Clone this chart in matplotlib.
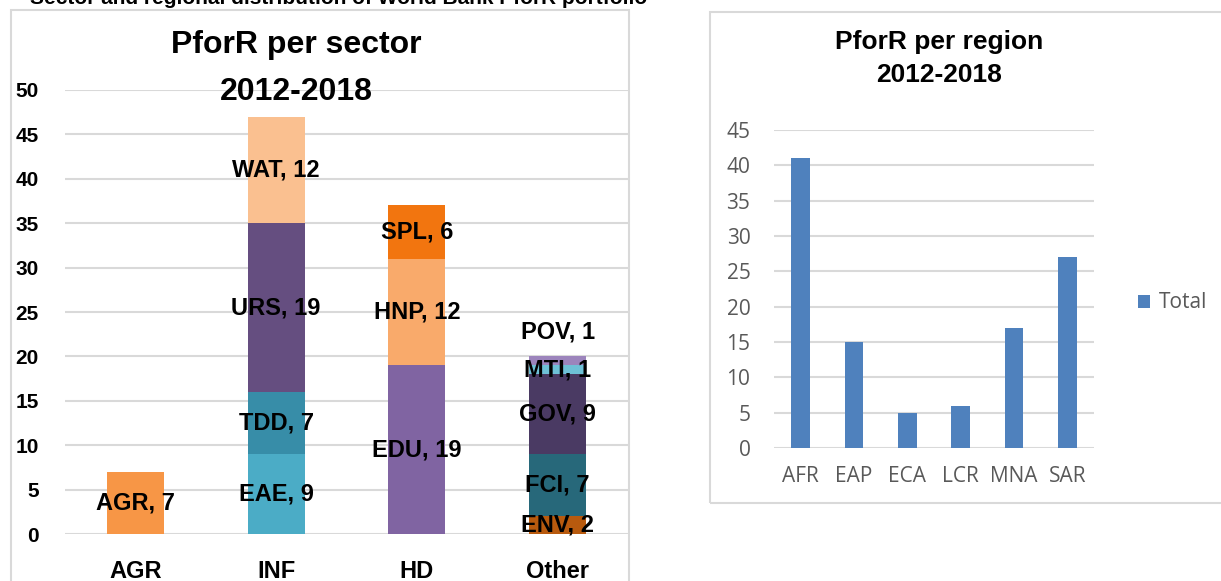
import matplotlib.pyplot as plt
from matplotlib.patches import Rectangle
import numpy as np

# Data: PforR per sector (stacked) and per region
sectors = ['AGR', 'INF', 'HD', 'Other']
sector_parts = [
    ['AGR'],
    ['EAE', 'TDD', 'URS', 'WAT'],
    ['EDU', 'HNP', 'SPL'],
    ['ENV', 'FCI', 'GOV', 'MTI', 'POV'],
]
sector_values = [
    [7],
    [9, 7, 19, 12],
    [19, 12, 6],
    [2, 7, 9, 1, 1],
]
regions = ['AFR', 'EAP', 'ECA', 'LCR', 'MNA', 'SAR']
region_totals = [41, 15, 5, 6, 17, 27]

part_colors = {
    'AGR': '#F79646', 'EAE': '#4BACC6', 'TDD': '#378DA8', 'URS': '#654E80',
    'WAT': '#FAC090', 'EDU': '#8064A2', 'HNP': '#F9AA6B', 'SPL': '#F2750F',
    'ENV': '#B85A0E', 'FCI': '#27687A', 'GOV': '#4A3A63', 'MTI': '#6EC0D6',
    'POV': '#9C84BC',
}
# labels that were dragged away from the segment centre in the original
label_shift = {'POV': 3.3}

W, H = 1221, 581
fig = plt.figure(figsize=(W / 100, H / 100), dpi=100)
plt.rcParams['font.family'] = ['Liberation Sans', 'DejaVu Sans']
bold_font = ['Liberation Sans', 'DejaVu Sans']
light_font = ['Open Sans', 'DejaVu Sans']

grid_c = '#D9D9D9'
gray = '#595959'

# outer chart frames
fig.patches.append(Rectangle((11 / W, -0.05), (629 - 11) / W, 1.05 - 10 / H,
                             transform=fig.transFigure, fill=False,
                             edgecolor=grid_c, lw=1.5))
fig.patches.append(Rectangle((710 / W, 1 - 503 / H), 0.5, (503 - 12) / H,
                             transform=fig.transFigure, fill=False,
                             edgecolor=grid_c, lw=1.5))

# cut-off heading above the charts
fig.text(30 / W, 1 - 4 / H, 'Sector and regional distribution of World Bank PforR portfolio',
         fontsize=15, fontweight='bold', family=bold_font, ha='left', va='baseline')

# ---- left: sector chart ----
ax1 = fig.add_axes([65 / W, (H - 534) / H, (628 - 65) / W, (534 - 90) / H])
x = np.arange(len(sectors))
for i, (parts, vals) in enumerate(zip(sector_parts, sector_values)):
    bottom = 0
    for p, v in zip(parts, vals):
        ax1.bar(x[i], v, bottom=bottom, width=0.405, color=part_colors[p], zorder=2)
        ax1.text(x[i], bottom + v / 2 + label_shift.get(p, 0), f'{p}, {v}',
                 ha='center', va='center', fontsize=17, fontweight='bold',
                 family=bold_font, zorder=3)
        bottom += v
ax1.set_xlim(-0.5, len(sectors) - 0.5)
ax1.set_ylim(0, 50)
ax1.set_yticks(np.arange(0, 51, 5))
ax1.set_xticks(x)
ax1.set_xticklabels(sectors, fontsize=17, fontweight='bold', family=bold_font)
for lbl in ax1.get_yticklabels():
    lbl.set_fontweight('bold')
    lbl.set_fontsize(15)
    lbl.set_family(bold_font)
ax1.tick_params(axis='y', length=0, pad=19)
ax1.tick_params(axis='x', length=0, pad=19)
ax1.grid(axis='y', color=grid_c, lw=1.5, zorder=0)
for s in ax1.spines.values():
    s.set_visible(False)
ax1.patch.set_alpha(0)

fig.text(296 / W, 1 - 45 / H, 'PforR per sector', fontsize=23, fontweight='bold',
         family=bold_font, ha='center', va='center')
fig.text(296 / W, 1 - 92 / H, '2012-2018', fontsize=23, fontweight='bold',
         family=bold_font, ha='center', va='center')

# ---- right: region chart ----
ax2 = fig.add_axes([774 / W, (H - 448) / H, (1094 - 774) / W, (448 - 130) / H])
xr = np.arange(len(regions))
ax2.bar(xr, region_totals, width=0.35, color='#4F81BD', label='Total', zorder=2)
ax2.set_xlim(-0.5, len(regions) - 0.5)
ax2.set_ylim(0, 45)
ax2.set_yticks(np.arange(0, 46, 5))
ax2.set_xticks(xr)
ax2.set_xticklabels(regions)
for lbl in ax2.get_xticklabels() + ax2.get_yticklabels():
    lbl.set_family(light_font)
ax2.tick_params(axis='both', length=0, labelsize=15, labelcolor=gray)
ax2.tick_params(axis='y', pad=17)
ax2.tick_params(axis='x', pad=13)
ax2.grid(axis='y', color=grid_c, lw=1.5, zorder=0)
for s in ax2.spines.values():
    s.set_visible(False)
ax2.patch.set_alpha(0)
leg = ax2.legend(loc='center left', bbox_to_anchor=(1119 / W, 1 - 303 / H),
                 bbox_transform=fig.transFigure, frameon=False,
                 prop={'family': light_font, 'size': 15},
                 handlelength=0.6, handleheight=0.6, handletextpad=0.4)
for t in leg.get_texts():
    t.set_color(gray)

fig.text(939 / W, 1 - 42 / H, 'PforR per region', fontsize=19, fontweight='bold',
         family=bold_font, ha='center', va='center')
fig.text(939 / W, 1 - 75 / H, '2012-2018', fontsize=19, fontweight='bold',
         family=bold_font, ha='center', va='center')

fig.savefig('out.png', dpi=100)
